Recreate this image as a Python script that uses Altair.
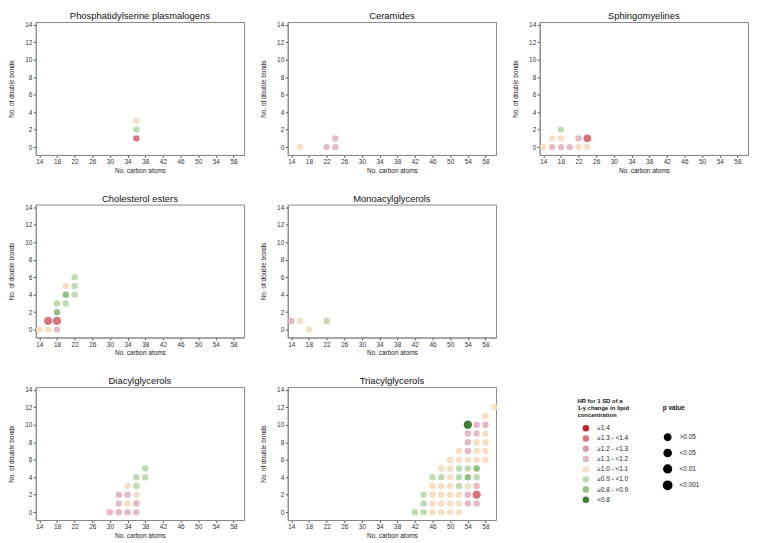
import altair as alt
import pandas as pd

HR_LABELS = ["≥1.4", "≥1.3 - <1.4", "≥1.2 - <1.3", "≥1.1 - <1.2",
             "≥1.0 - <1.1", "≥0.9 - <1.0", "≥0.8 - <0.9", "<0.8"]
HR_COLORS = ["#c0222c", "#d8737c", "#dc9ca8", "#e6b9c5",
             "#f6dfc4", "#bfdbb5", "#8fc27f", "#3d7d35"]
P_LABELS = [">0.05", "<0.05", "<0.01", "<0.001"]
P_SIZES = [42, 70, 100, 140]

X_TICKS = [14, 18, 22, 26, 30, 34, 38, 42, 46, 50, 54, 58]
Y_TICKS = [0, 2, 4, 6, 8, 10, 12, 14]

# HR codes index HR_LABELS, P codes index P_LABELS
PS_C = [36, 36, 36]
PS_DB = [1, 2, 3]
PS_HR = [1, 5, 4]
PS_P = [0, 0, 0]

CER_C = [16, 22, 24, 24]
CER_DB = [0, 0, 0, 1]
CER_HR = [4, 3, 3, 3]
CER_P = [0, 0, 0, 0]

SM_C = [14, 16, 16, 18, 18, 18, 20, 22, 22, 24, 24]
SM_DB = [0, 0, 1, 0, 1, 2, 0, 0, 1, 0, 1]
SM_HR = [4, 3, 4, 3, 4, 5, 3, 4, 3, 4, 1]
SM_P = [0, 0, 0, 0, 0, 0, 0, 0, 0, 0, 2]

CE_C = [14, 16, 16, 18, 18, 18, 18, 20, 20, 20, 22, 22, 22]
CE_DB = [0, 0, 1, 0, 1, 2, 3, 3, 4, 5, 4, 5, 6]
CE_HR = [4, 4, 1, 3, 1, 6, 5, 5, 6, 4, 5, 5, 5]
CE_P = [0, 0, 3, 0, 3, 0, 0, 0, 0, 0, 0, 0, 0]

MAG_C = [14, 16, 18, 22]
MAG_DB = [1, 1, 0, 1]
MAG_HR = [3, 4, 4, 5]
MAG_P = [0, 0, 0, 0]

DAG_C = [30, 32, 32, 32, 34, 34, 34, 34, 36, 36, 36, 36, 36, 38, 38]
DAG_DB = [0, 0, 1, 2, 0, 1, 2, 3, 0, 1, 2, 3, 4, 4, 5]
DAG_HR = [3, 3, 3, 3, 3, 4, 3, 4, 3, 3, 4, 5, 5, 5, 5]
DAG_P = [0] * 15

TAG_C = [42, 44, 46, 48, 50, 52,
         44, 46, 48, 50, 52, 54, 56,
         44, 46, 48, 50, 52, 54, 56,
         46, 48, 50, 52, 54, 56,
         46, 48, 50, 52, 54, 56,
         48, 50, 52, 54, 56,
         50, 52, 54, 56, 58,
         52, 54, 56, 58,
         54, 56, 58,
         54, 56, 58,
         54, 56, 58,
         58,
         60]
TAG_DB = [0, 0, 0, 0, 0, 0,
          1, 1, 1, 1, 1, 1, 1,
          2, 2, 2, 2, 2, 2, 2,
          3, 3, 3, 3, 3, 3,
          4, 4, 4, 4, 4, 4,
          5, 5, 5, 5, 5,
          6, 6, 6, 6, 6,
          7, 7, 7, 7,
          8, 8, 8,
          9, 9, 9,
          10, 10, 10,
          11,
          12]
TAG_HR = [5, 5, 4, 4, 4, 4,
          5, 4, 4, 4, 4, 3, 3,
          5, 4, 4, 4, 4, 3, 1,
          4, 4, 4, 5, 4, 3,
          5, 5, 4, 5, 6, 5,
          4, 4, 5, 5, 6,
          4, 4, 4, 4, 4,
          4, 3, 4, 4,
          3, 4, 4,
          3, 3, 4,
          7, 3, 3,
          4,
          4]
TAG_P = [0, 0, 0, 0, 0, 0,
         0, 0, 0, 0, 0, 0, 0,
         0, 0, 0, 0, 0, 0, 3,
         0, 0, 0, 0, 0, 0,
         0, 0, 0, 0, 0, 0,
         0, 0, 0, 0, 0,
         0, 0, 0, 0, 0,
         0, 0, 0, 0,
         0, 0, 0,
         0, 0, 0,
         3, 0, 0,
         0,
         0]

PANELS = [
    ("Phosphatidylserine plasmalogens", PS_C, PS_DB, PS_HR, PS_P),
    ("Ceramides", CER_C, CER_DB, CER_HR, CER_P),
    ("Sphingomyelines", SM_C, SM_DB, SM_HR, SM_P),
    ("Cholesterol esters", CE_C, CE_DB, CE_HR, CE_P),
    ("Monoacylglycerols", MAG_C, MAG_DB, MAG_HR, MAG_P),
    ("Diacylglycerols", DAG_C, DAG_DB, DAG_HR, DAG_P),
    ("Triacylglycerols", TAG_C, TAG_DB, TAG_HR, TAG_P),
]

FONT = "Liberation Sans"
W, H = 210, 134

color_legend = alt.Legend(
    title=["HR for 1 SD of a", "1-y change in lipid", "concentration"],
    orient="none", legendX=546, legendY=379,
    titleFontWeight="bold", titleFontSize=6, titleLineHeight=7,
    titlePadding=7, labelFontSize=6.5, symbolType="circle", symbolSize=42,
    rowPadding=3.3, labelOffset=8, symbolOffset=5, symbolStrokeWidth=0,
)
size_legend = alt.Legend(
    title="p value", orient="none", legendX=632, legendY=386,
    titleFontWeight="bold", titleFontSize=6.5, titlePadding=22,
    labelFontSize=6.5, symbolType="circle", symbolFillColor="black",
    symbolStrokeColor="black", symbolOpacity=1, rowPadding=1.5, labelOffset=7,
)


def panel(name, c, db, hr, p):
    df = pd.DataFrame({
        "carbons": c,
        "bonds": db,
        "hr": [HR_LABELS[i] for i in hr],
        "p": [P_LABELS[i] for i in p],
    })
    return alt.Chart(df, title=name).mark_circle(opacity=1).encode(
        x=alt.X("carbons:Q", scale=alt.Scale(domain=[13.2, 60.4], nice=False, zero=False),
                axis=alt.Axis(values=X_TICKS, title="No. carbon atoms", titlePadding=2)),
        y=alt.Y("bonds:Q", scale=alt.Scale(domain=[-0.9, 14.3], nice=False, zero=False),
                axis=alt.Axis(values=Y_TICKS, title="No. of double bonds", titlePadding=10)),
        color=alt.Color("hr:N", scale=alt.Scale(domain=HR_LABELS, range=HR_COLORS),
                        legend=color_legend),
        size=alt.Size("p:O", scale=alt.Scale(domain=P_LABELS, range=P_SIZES),
                      legend=size_legend),
    ).properties(width=W, height=H)


charts = [panel(*args) for args in PANELS]

row1 = alt.hconcat(charts[0], charts[1], charts[2], spacing=15)
row2 = alt.hconcat(charts[3], charts[4], spacing=15)
row3 = alt.hconcat(charts[5], charts[6], spacing=15)

chart = alt.vconcat(row1, row2, row3, spacing=18).properties(
    padding={"left": 0, "top": 0, "right": 0, "bottom": 0}
).configure_axis(
    labelFont=FONT, titleFont=FONT, labelFontSize=6.5, titleFontSize=6.5,
    titleFontWeight="normal", labelColor="#333", titleColor="#222",
    tickColor="#555", domainColor="#888", grid=False, tickSize=2.5,
    labelPadding=1.5,
).configure_title(
    font=FONT, fontSize=9.5, fontWeight="normal", color="#111", offset=1,
).configure_legend(
    labelFont=FONT, titleFont=FONT, labelColor="#222", titleColor="#111",
).configure_view(
    stroke="#888", strokeWidth=1,
)

chart.save("out.html", embed_options={"renderer": "svg", "actions": False})
